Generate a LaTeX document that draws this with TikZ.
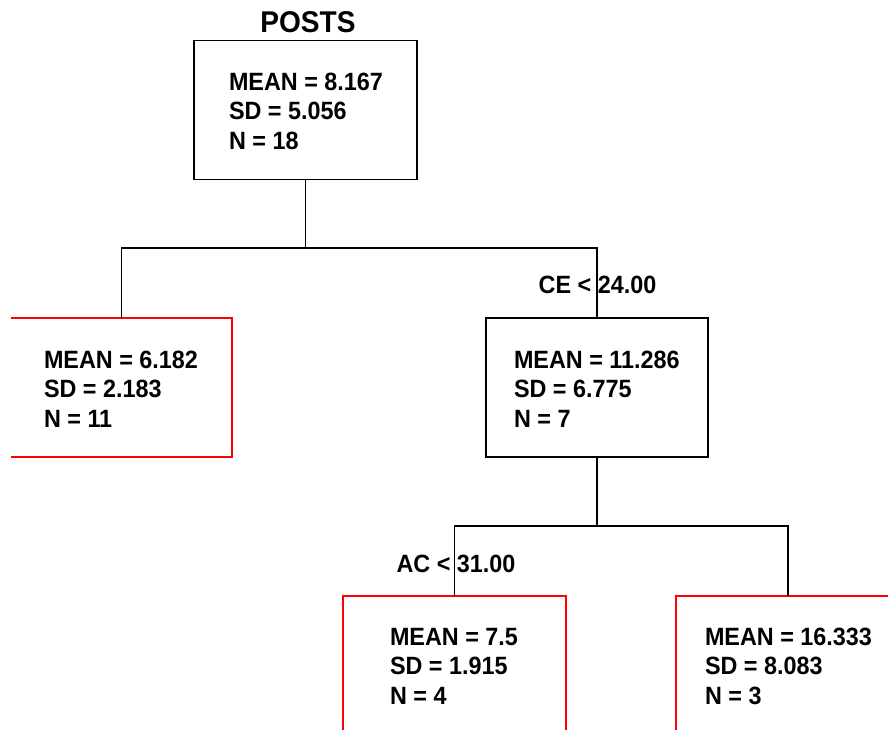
\documentclass[tikz,border=0pt]{standalone}
\usepackage{fontspec}
\setmainfont{Liberation Sans}[FakeStretch=0.935]
\begin{document}
\begin{tikzpicture}[x=1pt,y=-1pt,
  every node/.style={inner sep=0pt,outer sep=0pt},
  txt/.style={anchor=base west,font=\fontsize{25}{30}\selectfont\bfseries},
  lbl/.style={anchor=base,font=\fontsize{25}{30}\selectfont\bfseries},
  ttl/.style={anchor=base,font=\fontsize{30}{36}\selectfont\bfseries},
  box/.style={minimum width=#1,minimum height=139pt},
  conn/.style={draw=black,line width=1.8pt},
  blk/.style={draw=black,line width=1.8pt},
  leaf/.style={draw=red,line width=1.8pt}]
\useasboundingbox (0,0) rectangle (888,729);
\clip (0,0) rectangle (888,729);
% boxes
\node[box=223pt,blk] (root) at (305.5,110) {};
\node[box=222pt,blk] (ce) at (597,387.5) {};
\node[box=221pt] (leaf1) at (121.5,387.5) {};
\draw[leaf] (leaf1.north west) -- (leaf1.north east) -- (leaf1.south east) -- (leaf1.south west);
\node[box=223pt,leaf,minimum height=150pt] (leaf2) at (454.5,671) {};
\node[box=224pt,leaf,minimum height=150pt] (leaf3) at (788,671) {};
% title
\node[ttl] (title) at (308,32) {POSTS};
% texts
\node[txt] (r1) at (229,90) {MEAN = 8.167};
\node[txt] (r2) at (229,119.5) {SD = 5.056};
\node[txt] (r3) at (229,149) {N = 18};
\node[txt] (a1) at (44,368) {MEAN = 6.182};
\node[txt] (a2) at (44,397.5) {SD = 2.183};
\node[txt] (a3) at (44,427) {N = 11};
\node[txt] (c1) at (514,368) {MEAN = 11.286};
\node[txt] (c2) at (514,397.5) {SD = 6.775};
\node[txt] (c3) at (514,427) {N = 7};
\node[txt] (b1) at (390,645) {MEAN = 7.5};
\node[txt] (b2) at (390,674.5) {SD = 1.915};
\node[txt] (b3) at (390,704) {N = 4};
\node[txt] (d1) at (705,645) {MEAN = 16.333};
\node[txt] (d2) at (705,674.5) {SD = 8.083};
\node[txt] (d3) at (705,704) {N = 3};
% connectors
\coordinate (j1) at (305.5,248);
\coordinate (j2) at (597,526);
\draw[conn] (root.south) -- (j1);
\draw[conn] (j1) -| (leaf1.north);
\draw[conn] (j1) -| (ce.north);
\draw[conn] (ce.south) -- (j2);
\draw[conn] (j2) -| (leaf2.north);
\draw[conn] (j2) -| (leaf3.north);
% split labels
\node[lbl] (l1) at (597.5,293) {CE < 24.00};
\node[lbl] (l2) at (456,572) {AC < 31.00};
\end{tikzpicture}
\end{document}
